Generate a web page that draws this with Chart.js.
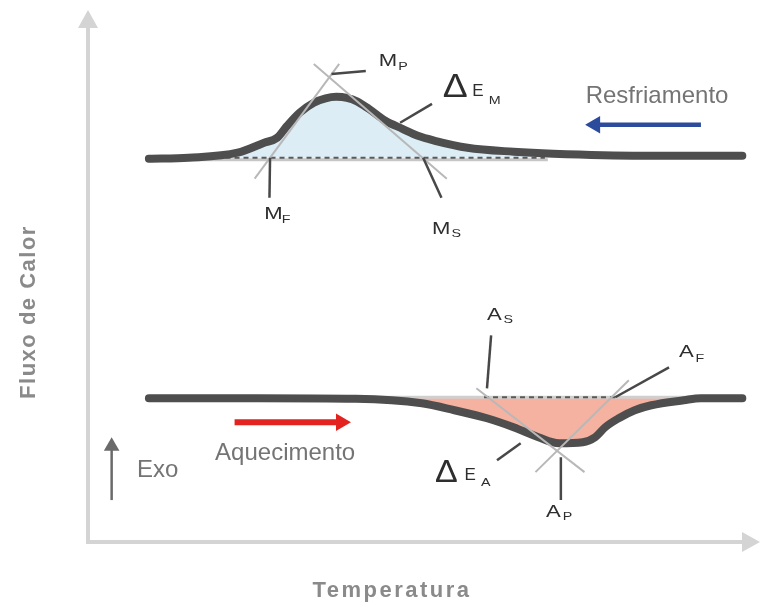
<!DOCTYPE html>
<html>
<head>
<meta charset="utf-8">
<script src="https://cdn.jsdelivr.net/npm/chart.js@4.4.0/dist/chart.umd.min.js"></script>
<style>
  html, body { margin: 0; padding: 0; background: #fff; }
  #dsc { display: block; }
</style>
</head>
<body>
<canvas id="dsc" width="760" height="610"></canvas>
<script>
// Cooling curve (exothermic peak) - temperature vs heat flow
const coolingTemp = [10.3, 17.0, 25.3, 29.8, 32.0, 33.7, 35.8, 38.2, 40.2, 42.0, 43.8, 45.5, 47.5, 50.3, 53.2, 55.8, 58.7, 64.2, 72.0, 78.7, 93.7, 110.7];
const coolingFlow = [76.8, 77.0, 78.0, 80.0, 81.0, 83.4, 86.0, 88.0, 88.9, 89.2, 89.0, 88.3, 86.8, 84.4, 82.8, 81.4, 80.4, 79.0, 78.2, 77.8, 77.4, 77.4];

// Heating curve (endothermic valley)
const heatingTemp = [10.3, 28.7, 45.3, 56.5, 62.0, 67.5, 72.0, 76.2, 79.7, 83.7, 85.8, 87.5, 89.8, 92.5, 95.3, 100.8, 103.7, 110.7];
const heatingFlow = [28.8, 28.8, 28.7, 27.8, 26.4, 24.8, 23.0, 21.0, 19.8, 20.0, 21.0, 23.0, 24.8, 26.4, 27.4, 28.4, 28.8, 28.8];

// Baselines
const coolingBaseTemp = [17.0, 77.8];
const coolingBaseFlow = [76.6, 76.6];
const coolingDashTemp = [18.7, 77.3];
const coolingDashFlow = [77.0, 77.0];
const heatingBaseTemp = [47.0, 103.7];
const heatingBaseFlow = [29.0, 29.0];
const heatingDashTemp = [67.0, 89.2];
const heatingDashFlow = [29.0, 29.0];

// Tangent construction lines
const tanMLeftTemp = [28.2, 42.5],  tanMLeftFlow = [72.8, 95.8];
const tanMRightTemp = [38.2, 60.7], tanMRightFlow = [95.8, 72.8];
const tanALeftTemp = [65.7, 84.0],  tanALeftFlow = [30.8, 14.0];
const tanARightTemp = [75.7, 91.5], tanARightFlow = [14.0, 32.4];

// Leader lines for the labels
const leadMpTemp = [41.2, 47.0], leadMpFlow = [93.8, 94.4];
const leadMfTemp = [30.8, 30.7], leadMfFlow = [77.0, 69.0];
const leadMsTemp = [56.7, 59.8], leadMsFlow = [77.0, 69.0];
const leadEmTemp = [52.8, 58.2], leadEmFlow = [84.0, 87.8];
const leadAsTemp = [68.2, 67.5], leadAsFlow = [41.4, 30.8];
const leadAfTemp = [98.3, 89.2], leadAfFlow = [35.0, 29.0];
const leadApTemp = [80.0, 80.0], leadApFlow = [17.0, 8.4];
const leadEaTemp = [69.2, 73.2], leadEaFlow = [16.4, 19.8];

// Direction arrows
const coolArrowTemp = [103.7, 86.5], coolArrowFlow = [83.6, 83.6];
const heatArrowTemp = [24.8, 42.0],  heatArrowFlow = [24.0, 24.0];
const exoArrowTemp = [4.0, 4.0],     exoArrowFlow = [8.4, 18.6];

const FONT = "'Liberation Sans', Arial, sans-serif";

function pts(xs, ys) {
  return xs.map((x, i) => ({ x: x, y: ys[i] }));
}

function line(xs, ys, color, width, extra) {
  return Object.assign({
    data: pts(xs, ys),
    borderColor: color,
    borderWidth: width,
    showLine: true,
    pointRadius: 0,
    fill: false
  }, extra || {});
}

// area between a curve and its horizontal baseline
function area(xs, ys, x0, x1, base, color) {
  const data = [{ x: x0, y: base }];
  xs.forEach((x, i) => { if (x > x0 && x < x1) data.push({ x: x, y: ys[i] }); });
  data.push({ x: x1, y: base });
  return {
    data: data,
    borderWidth: 0,
    borderColor: 'rgba(0,0,0,0)',
    backgroundColor: color,
    showLine: true,
    pointRadius: 0,
    cubicInterpolationMode: 'monotone',
    fill: { value: base }
  };
}

function head(x, y, color, rot, r) {
  return {
    data: [{ x: x, y: y }],
    showLine: false,
    pointStyle: 'triangle',
    pointRotation: rot,
    pointRadius: r,
    pointBorderWidth: 0,
    pointBackgroundColor: color,
    pointBorderColor: color
  };
}

const curveStyle = { cubicInterpolationMode: 'monotone', borderCapStyle: 'round', borderJoinStyle: 'round' };
const tangentGray = '#b8b8b8';
const leaderGray = '#484848';

// first dataset is drawn on top
const datasets = [
  head(85.8, 83.6, '#2c4b9c', -90, 10),
  head(42.8, 24.0, '#e2231f', 90, 10),
  head(4.0, 19.2, '#6a6a6a', 0, 9),
  line(coolArrowTemp, coolArrowFlow, '#2c4b9c', 4.5),
  line(heatArrowTemp, heatArrowFlow, '#e2231f', 6),
  line(exoArrowTemp, exoArrowFlow, '#6a6a6a', 2.5),

  line(leadMpTemp, leadMpFlow, leaderGray, 2.5),
  line(leadMfTemp, leadMfFlow, leaderGray, 2.5),
  line(leadMsTemp, leadMsFlow, leaderGray, 2.5),
  line(leadEmTemp, leadEmFlow, leaderGray, 2.5),
  line(leadAsTemp, leadAsFlow, leaderGray, 2.5),
  line(leadAfTemp, leadAfFlow, leaderGray, 2.5),
  line(leadApTemp, leadApFlow, leaderGray, 2.5),
  line(leadEaTemp, leadEaFlow, leaderGray, 2.5),

  line(tanMLeftTemp, tanMLeftFlow, tangentGray, 2),
  line(tanMRightTemp, tanMRightFlow, tangentGray, 2),
  line(tanALeftTemp, tanALeftFlow, tangentGray, 2),
  line(tanARightTemp, tanARightFlow, tangentGray, 2),

  line(coolingTemp, coolingFlow, '#4e4e4e', 8, curveStyle),
  line(heatingTemp, heatingFlow, '#4e4e4e', 8, curveStyle),

  line(coolingDashTemp, coolingDashFlow, '#5a5a5a', 2, { borderDash: [5, 4] }),
  line(heatingDashTemp, heatingDashFlow, '#5a5a5a', 2, { borderDash: [5, 4] }),
  line(coolingBaseTemp, coolingBaseFlow, '#c6c6c6', 3),
  line(heatingBaseTemp, heatingBaseFlow, '#cfcfcf', 3),

  area(coolingTemp, coolingFlow, 17.0, 77.8, 77.0, '#dcedf6'),
  area(heatingTemp, heatingFlow, 47.0, 103.7, 29.0, '#f5b2a1')
];

// text pieces: [text, temp, flow, font size, horizontal stretch]
const labelParts = [
  ['M', 49.2, 95.4, 17, 1.3], ['P', 52.5, 94.6, 11, 1.3],
  ['M', 29.8, 64.8, 17, 1.3], ['F', 32.8, 64.0, 11, 1.3],
  ['M', 58.2, 61.8, 17, 1.3], ['S', 61.5, 61.2, 11, 1.3],
  ['\u0394', 60.0, 89.2, 34, 1.1], ['E', 65.0, 89.4, 17, 1.0], ['M', 67.8, 87.8, 11, 1.3],
  ['A', 67.5, 44.4, 17, 1.3], ['S', 70.3, 43.8, 11, 1.3],
  ['A', 100.0, 37.0, 17, 1.3], ['F', 102.8, 36.0, 11, 1.3],
  ['A', 77.5, 5.0, 17, 1.3], ['P', 80.3, 4.4, 11, 1.3],
  ['\u0394', 58.7, 12.0, 31, 1.1], ['E', 63.7, 12.4, 17, 1.0], ['A', 66.5, 11.2, 11, 1.3]
];

const captions = [
  ['Resfriamento', 84.2, 88.0],
  ['Aquecimento', 21.5, 16.4],
  ['Exo', 8.3, 13.0]
];

const decor = {
  id: 'decor',
  beforeDatasetsDraw(chart) {
    const ctx = chart.ctx;
    const a = chart.chartArea;
    ctx.save();
    ctx.strokeStyle = '#d4d4d4';
    ctx.fillStyle = '#d4d4d4';
    ctx.lineWidth = 4;
    ctx.beginPath();
    ctx.moveTo(a.left, a.bottom + 2);
    ctx.lineTo(a.left, a.top + 16);
    ctx.moveTo(a.left - 2, a.bottom);
    ctx.lineTo(a.right - 6, a.bottom);
    ctx.stroke();
    // arrow tips
    ctx.beginPath();
    ctx.moveTo(a.left - 10, a.top + 18);
    ctx.lineTo(a.left + 10, a.top + 18);
    ctx.lineTo(a.left, a.top);
    ctx.closePath();
    ctx.fill();
    ctx.beginPath();
    ctx.moveTo(a.right - 8, a.bottom - 10);
    ctx.lineTo(a.right - 8, a.bottom + 10);
    ctx.lineTo(a.right + 10, a.bottom);
    ctx.closePath();
    ctx.fill();
    ctx.restore();
  },
  afterDatasetsDraw(chart) {
    const ctx = chart.ctx;
    const xs = chart.scales.x, ys = chart.scales.y;
    const a = chart.chartArea;
    ctx.save();
    ctx.textAlign = 'left';
    ctx.textBaseline = 'alphabetic';

    ctx.fillStyle = '#2e2e2e';
    labelParts.forEach(p => {
      ctx.save();
      ctx.translate(xs.getPixelForValue(p[1]), ys.getPixelForValue(p[2]));
      ctx.scale(p[4], 1);
      ctx.font = p[3] + 'px ' + FONT;
      ctx.fillText(p[0], 0, 0);
      ctx.restore();
    });

    ctx.fillStyle = '#747474';
    ctx.font = '24px ' + FONT;
    captions.forEach(c => {
      ctx.fillText(c[0], xs.getPixelForValue(c[1]), ys.getPixelForValue(c[2]));
    });

    // axis titles
    ctx.fillStyle = '#8a8a8a';
    ctx.font = 'bold 22px ' + FONT;
    ctx.textAlign = 'center';
    ctx.letterSpacing = '2.5px';
    ctx.fillText('Temperatura', (a.left + a.right) / 2 - 27, a.bottom + 55);
    ctx.letterSpacing = '1.5px';
    ctx.translate(35, 312);
    ctx.rotate(-Math.PI / 2);
    ctx.fillText('Fluxo de Calor', 0, 0);
    ctx.restore();
  }
};

new Chart(document.getElementById('dsc'), {
  type: 'scatter',
  data: { datasets: datasets },
  options: {
    responsive: false,
    devicePixelRatio: 1,
    animation: false,
    events: [],
    layout: { padding: { left: 88, right: 0, top: 9, bottom: 68 } },
    scales: {
      x: { type: 'linear', min: 0, max: 112, display: false },
      y: { type: 'linear', min: 0, max: 106.6, display: false }
    },
    plugins: {
      legend: { display: false },
      tooltip: { enabled: false }
    }
  },
  plugins: [decor]
});
</script>
</body>
</html>
